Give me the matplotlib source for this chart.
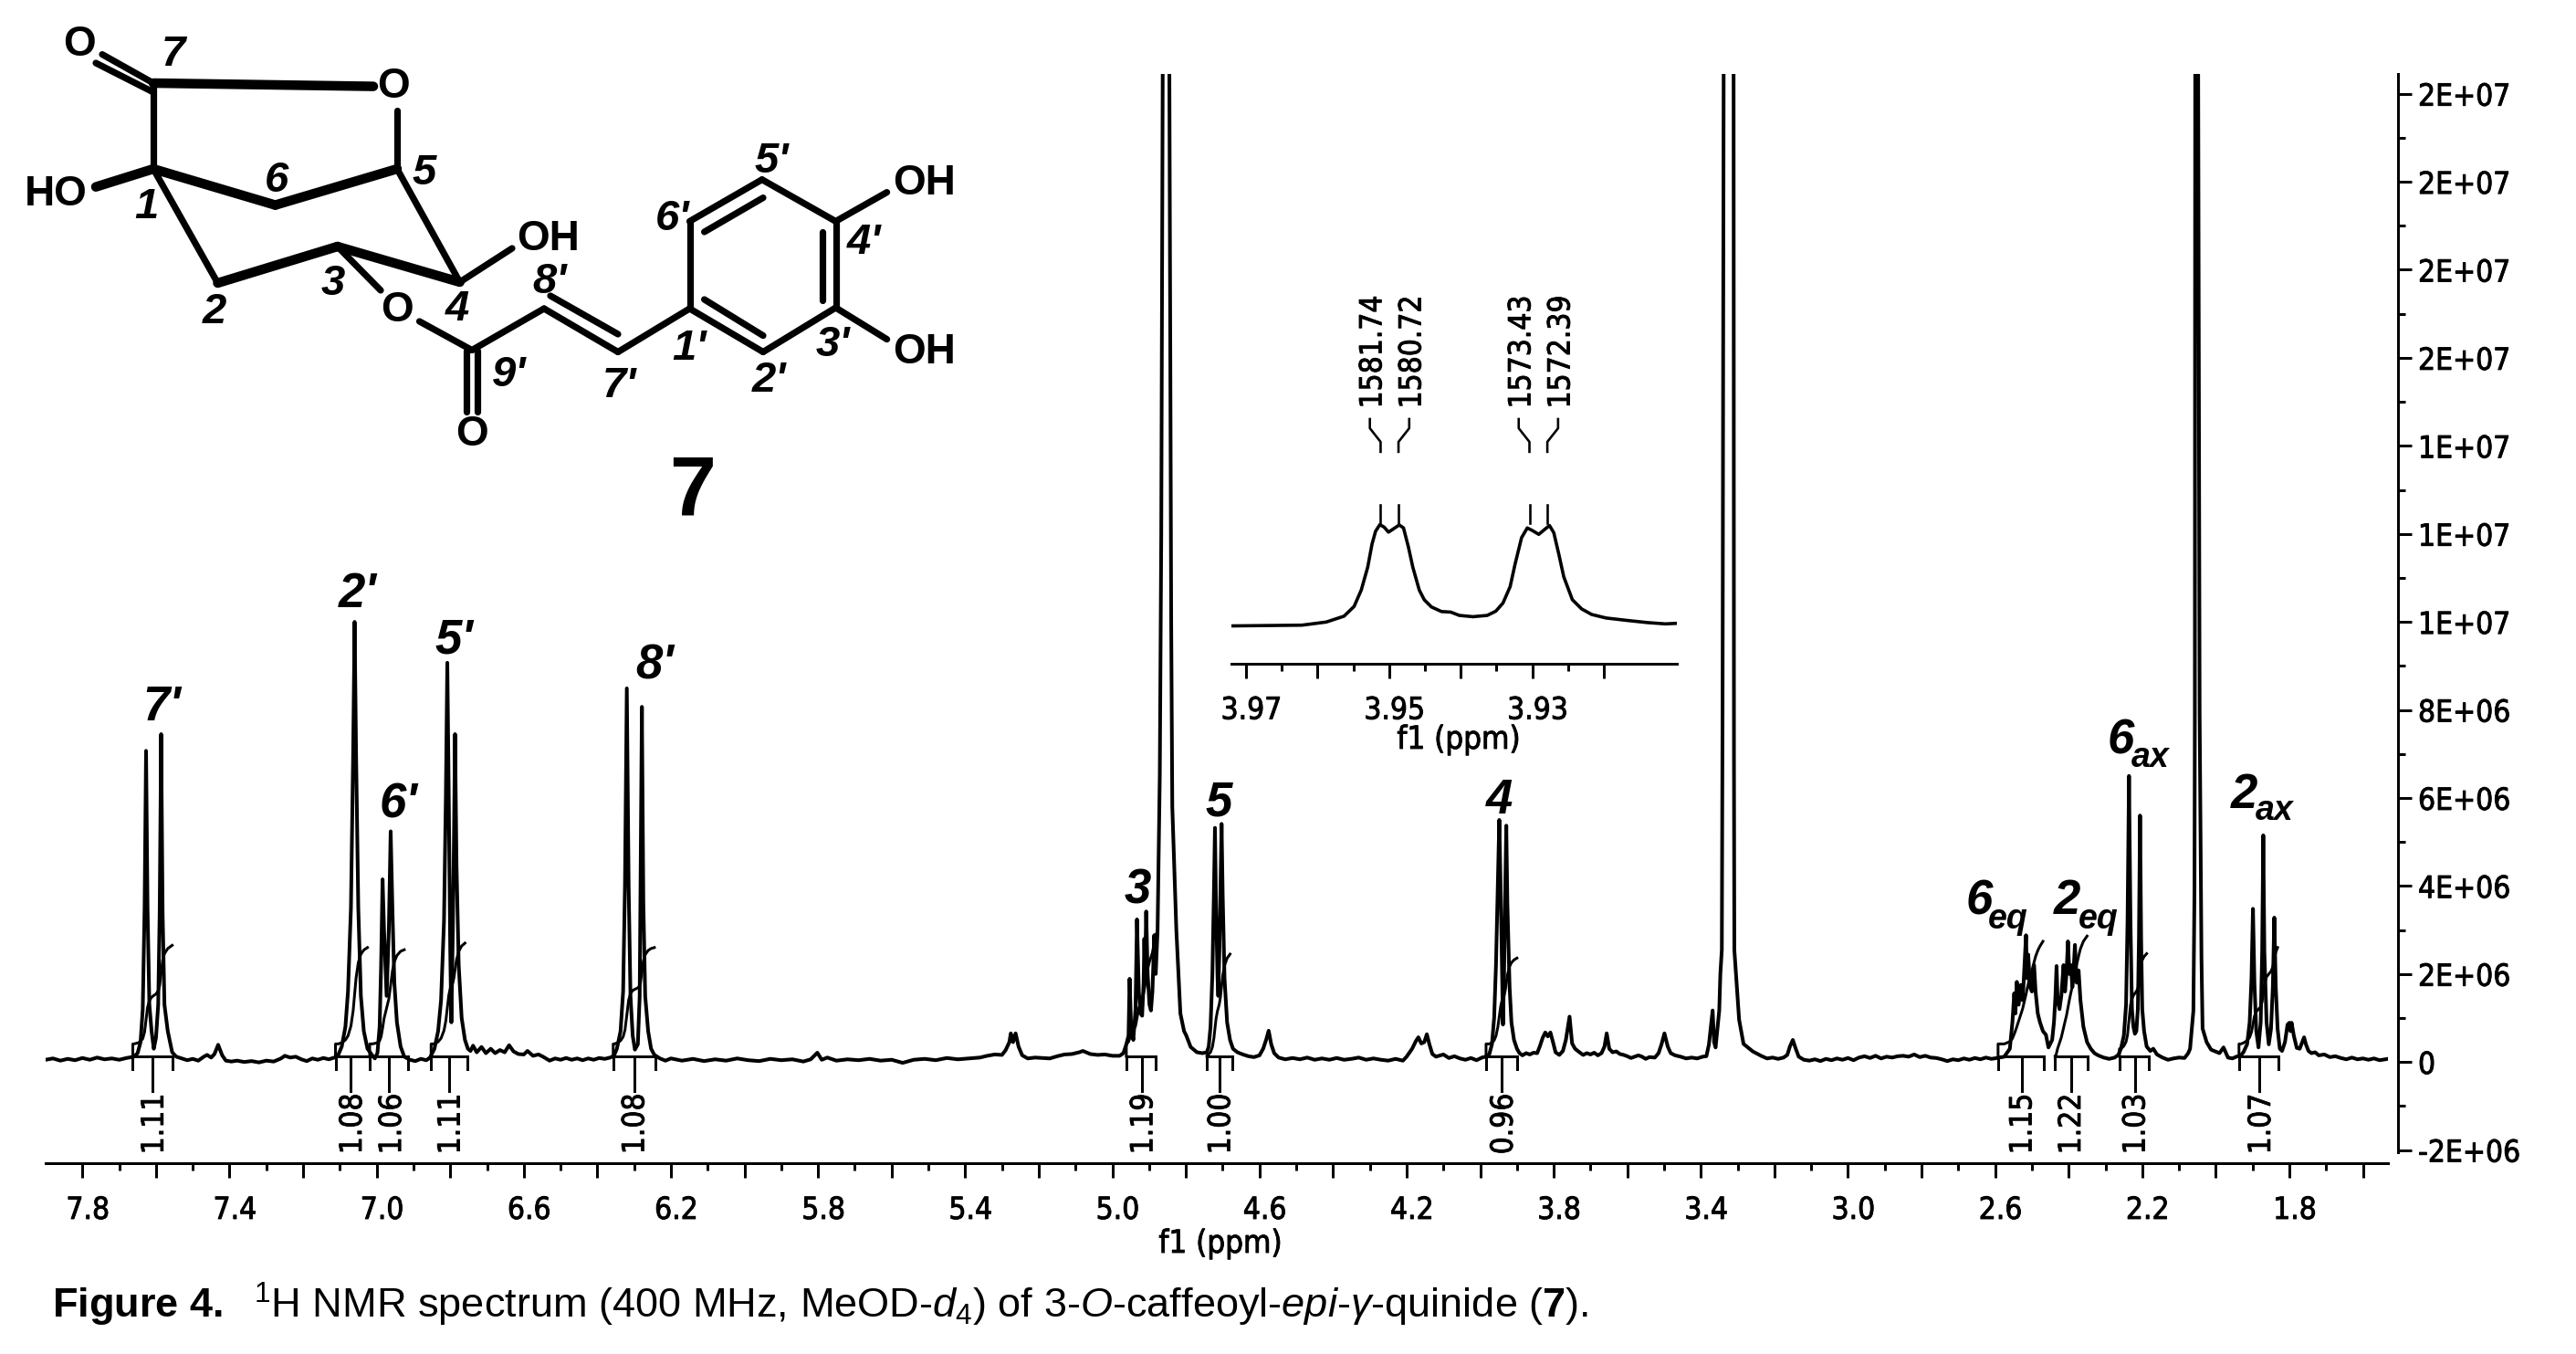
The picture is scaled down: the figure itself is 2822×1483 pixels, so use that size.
import numpy as np
import matplotlib
matplotlib.use("Agg")
import matplotlib.pyplot as plt
from matplotlib.ticker import FixedLocator, FixedFormatter, NullFormatter
from matplotlib.transforms import ScaledTranslation
from matplotlib import font_manager as fm
from matplotlib.patheffects import withStroke

# ---------- values: (ppm, intensity in units of 1E+06) ----------
left_baseline = [(7.90,.05),(7.88,.08),(7.86,.03),(7.84,.07),(7.82,.04),(7.80,.09),(7.78,.05),(7.76,.10),(7.74,.06),(7.72,.08),(7.70,.05),(7.68,.09),(7.66,.12)]
h7p = [(7.65,.2),(7.642,.45),(7.636,1.2),(7.631,3.5),(7.627,7.07),(7.623,3.5),(7.618,1.3),(7.612,.7),(7.606,.3),(7.60,.55),(7.594,1.3),(7.59,3.4),(7.586,7.45),(7.582,3.4),(7.577,1.3),(7.568,.7),(7.556,.22),(7.545,.12)]
gap_a = [(7.53,.08),(7.515,.04),(7.50,.07),(7.485,.03),(7.47,.12),(7.461,.16),(7.45,.1),(7.441,.18),(7.431,.39),(7.42,.15),(7.41,.03),(7.395,.01),(7.38,.03),(7.36,0),(7.34,.02),(7.32,-.01),(7.30,.03),(7.28,.01),(7.26,.08),(7.25,.14),(7.235,.1),(7.22,.12),(7.205,.06),(7.19,.02),(7.175,.08),(7.16,.05),(7.145,.09),(7.13,.06),(7.115,.1),(7.105,.15)]
h2p = [(7.095,.35),(7.085,.8),(7.078,1.6),(7.07,3.5),(7.064,7),(7.06,10.0),(7.056,7),(7.05,3.5),(7.043,1.5),(7.035,.7),(7.025,.3),(7.012,.15),(7.005,.08)]
h6p = [(6.998,.2),(6.992,.8),(6.988,2.2),(6.984,4.15),(6.98,3.0),(6.973,1.5),(6.967,3),(6.962,5.24),(6.957,3.4),(6.952,1.8),(6.945,.9),(6.935,.35),(6.925,.12),(6.91,.05),(6.895,.02),(6.88,.07),(6.865,.04)]
h5p = [(6.855,.1),(6.843,.3),(6.833,.7),(6.825,1.4),(6.817,3.2),(6.812,6),(6.808,9.07),(6.804,6),(6.8,2.5),(6.797,.9),(6.793,3),(6.79,5),(6.787,7.45),(6.783,4.5),(6.777,2.2),(6.769,1.0),(6.76,.5),(6.752,.3)]
gap_b = [(6.745,.25),(6.738,.37),(6.728,.22),(6.715,.34),(6.703,.2),(6.69,.3),(6.678,.2),(6.665,.27),(6.652,.22),(6.64,.38),(6.628,.24),(6.615,.18),(6.6,.17),(6.59,.25),(6.575,.14),(6.56,.17),(6.548,.12),(6.53,.03),(6.515,.08),(6.5,.05),(6.485,.09),(6.47,.05),(6.455,.08),(6.44,.04),(6.425,.08),(6.41,.05),(6.395,.09),(6.38,.07),(6.365,.1),(6.355,.14)]
h8p = [(6.347,.3),(6.337,.7),(6.33,1.6),(6.325,4),(6.32,8.49),(6.315,4),(6.31,1.5),(6.304,.6),(6.298,.28),(6.29,.4),(6.285,1.5),(6.283,3.6),(6.279,8.07),(6.275,3.6),(6.27,1.5),(6.262,.7),(6.254,.3),(6.245,.16)]
gap_c = [(6.23,.08),(6.215,.03),(6.2,.08),(6.17,.03),(6.14,.07),(6.11,.02),(6.08,.06),(6.05,.03),(6.02,.08),(5.99,.04),(5.96,.02),(5.93,.07),(5.90,.04),(5.87,.06),(5.84,.01),(5.82,.06),(5.802,.21),(5.79,.05),(5.775,.1),(5.75,.03),(5.72,.06),(5.69,.04),(5.66,.07),(5.63,.03),(5.60,.05),(5.57,-.02),(5.54,.05),(5.51,.07),(5.48,.04),(5.45,.09),(5.42,.06),(5.39,.08),(5.36,.1),(5.34,.14),(5.32,.17),(5.30,.16),(5.29,.27),(5.28,.45),(5.276,.65),(5.27,.45),(5.263,.65),(5.255,.35),(5.245,.15),(5.23,.08),(5.21,.1),(5.19,.09),(5.17,.08),(5.15,.13),(5.13,.17),(5.11,.18),(5.09,.22),(5.08,.25),(5.06,.18),(5.04,.16),(5.02,.17),(5.0,.14),(4.98,.14),(4.97,.2)]
h3 = [(4.962,.4),(4.956,.6),(4.953,1.89),(4.949,.8),(4.943,.5),(4.937,1.2),(4.933,3.24),(4.928,1.6),(4.923,1.1),(4.919,1.05),(4.915,1.8),(4.913,2.8),(4.911,2),(4.908,3.42),(4.904,2),(4.899,1.3),(4.895,1.17),(4.891,1.6),(4.886,2.88),(4.882,2.0)]
water = [(4.877,3),(4.871,6.5),(4.867,12),(4.863,22.6),(4.854,30),(4.845,22.6),(4.840,10),(4.837,5.8),(4.826,3.0),(4.815,1.1),(4.805,.7),(4.799,.6),(4.787,.34),(4.77,.22),(4.755,.2),(4.743,.22)]
h5 = [(4.738,.35),(4.733,.8),(4.728,2),(4.724,3.8),(4.721,5.32),(4.718,3.5),(4.714,1.9),(4.712,1.5),(4.709,2.5),(4.706,4),(4.703,5.41),(4.70,3.8),(4.695,1.9),(4.688,.9),(4.68,.5),(4.672,.3)]
gap_d = [(4.66,.22),(4.645,.17),(4.63,.13),(4.615,.11),(4.6,.15),(4.59,.3),(4.582,.5),(4.575,.71),(4.568,.4),(4.56,.2),(4.548,.1),(4.53,.06),(4.51,.09),(4.49,.06),(4.47,.1),(4.45,.05),(4.43,.08),(4.41,.05),(4.39,.09),(4.37,.05),(4.35,.07),(4.33,.1),(4.31,.05),(4.29,.08),(4.27,.05),(4.25,.03),(4.23,.07),(4.21,.03),(4.2,.12),(4.185,.3),(4.175,.47),(4.168,.56),(4.16,.42),(4.152,.45),(4.145,.63),(4.138,.4),(4.13,.18),(4.12,.12),(4.1,.17),(4.085,.09),(4.07,.13),(4.055,.08),(4.04,.05),(4.025,.09),(4.01,.04),(3.995,.1),(3.985,.12)]
h4 = [(3.975,.18),(3.968,.4),(3.962,1),(3.957,2.2),(3.952,4),(3.948,5.5),(3.944,3.8),(3.94,1.8),(3.938,.85),(3.935,2),(3.932,3.8),(3.929,5.37),(3.926,3.6),(3.92,1.7),(3.915,.9),(3.908,.5),(3.9,.3)]
gap_e = [(3.893,.2),(3.885,.15),(3.875,.2),(3.865,.17),(3.855,.21),(3.845,.2),(3.838,.35),(3.83,.55),(3.823,.67),(3.816,.58),(3.809,.67),(3.802,.45),(3.795,.22),(3.785,.16),(3.775,.25),(3.767,.5),(3.757,1.03),(3.75,.42),(3.742,.3),(3.73,.22),(3.72,.16),(3.71,.2),(3.7,.17),(3.69,.21),(3.68,.15),(3.67,.2),(3.662,.35),(3.656,.65),(3.649,.3),(3.64,.22),(3.63,.24),(3.62,.18),(3.61,.16),(3.6,.13),(3.59,.09),(3.58,.12),(3.57,.15),(3.56,.12),(3.55,.07),(3.54,.11),(3.525,.1),(3.515,.2),(3.507,.4),(3.499,.65),(3.49,.35),(3.482,.2),(3.47,.15),(3.455,.12),(3.44,.08),(3.425,.1),(3.41,.08),(3.395,.12),(3.385,.13),(3.378,.4),(3.368,1.17),(3.364,.45)]
methanol = [(3.36,.33),(3.35,1.17),(3.347,2.0),(3.343,2.55),(3.341,8),(3.338,22.6),(3.325,32),(3.311,22.6),(3.31,7),(3.309,2.55),(3.296,.96),(3.284,.41),(3.259,.24),(3.234,.13)]
gap_f = [(3.22,.08),(3.205,.1),(3.19,.07),(3.175,.1),(3.165,.16),(3.158,.35),(3.15,.5),(3.142,.3),(3.134,.12),(3.12,.05),(3.105,.03),(3.09,.06),(3.075,.02),(3.06,.07),(3.045,.04),(3.03,.08),(3.015,.05),(3.0,.09),(2.985,.04),(2.97,.1),(2.955,.13),(2.94,.09),(2.925,.14),(2.91,.08),(2.895,.12),(2.88,.1),(2.865,.13),(2.85,.14),(2.835,.12),(2.82,.17),(2.805,.11),(2.79,.14),(2.775,.1),(2.76,.09),(2.745,.06),(2.73,.02),(2.715,.06),(2.7,.04),(2.685,.08),(2.67,.05),(2.655,.09),(2.64,.06),(2.625,.1),(2.61,.07),(2.595,.09),(2.575,.12)]
h6eq = [(2.56,.3),(2.553,.9),(2.548,1.56),(2.545,1.1),(2.541,1.82),(2.536,1.3),(2.53,1.75),(2.525,1.4),(2.516,2.88),(2.513,1.9),(2.51,2.44),(2.505,1.7),(2.5,1.6),(2.494,2.2),(2.49,1.6),(2.484,1.1),(2.478,.9),(2.47,.7),(2.462,.62),(2.455,.33)]
h2eq = [(2.445,.5),(2.44,.9),(2.436,1.5),(2.433,2.18),(2.43,1.4),(2.425,1.2),(2.42,1.5),(2.414,2.2),(2.41,1.6),(2.406,2.0),(2.402,2.74),(2.398,2.0),(2.394,2.2),(2.39,1.7),(2.386,2.2),(2.383,2.66),(2.378,1.8),(2.373,2.08),(2.368,1.4),(2.36,.8),(2.35,.45),(2.34,.3)]
gap_g = [(2.33,.2),(2.32,.15),(2.305,.1),(2.29,.07),(2.275,.1),(2.265,.16)]
h6ax = [(2.258,.3),(2.25,.6),(2.244,1.3),(2.24,3.2),(2.236,6.5),(2.232,3.2),(2.228,1.2),(2.224,.8),(2.22,.64),(2.216,.7),(2.212,1.2),(2.209,2.8),(2.206,5.6),(2.203,2.8),(2.2,1.2),(2.195,.7),(2.188,.35),(2.178,.25)]
gap_h = [(2.17,.3),(2.16,.17),(2.145,.1),(2.13,.05),(2.115,.08),(2.1,.1),(2.085,.09),(2.075,.2)]
acetone = [(2.07,.3),(2.061,1.16),(2.058,3.9),(2.057,7.9),(2.056,22.6),(2.052,30),(2.048,22.6),(2.044,7.9),(2.039,2.36),(2.036,.76),(2.025,.45),(2.013,.28),(1.99,.2),(1.979,.33),(1.967,.1),(1.955,.08),(1.944,.12),(1.932,.15)]
h2ax = [(1.925,.22),(1.915,.4),(1.908,.9),(1.903,1.9),(1.899,3.48),(1.895,1.8),(1.89,.7),(1.884,.33),(1.878,.9),(1.874,2.5),(1.871,5.15),(1.868,2.5),(1.862,.9),(1.856,.4),(1.85,.75),(1.845,1.7),(1.841,3.28),(1.837,1.7),(1.832,.75),(1.826,.3)]
right_tail = [(1.82,.25),(1.812,.45),(1.805,.85),(1.8,.89),(1.797,.7),(1.794,.89),(1.788,.6),(1.78,.32),(1.772,.3),(1.765,.45),(1.76,.56),(1.755,.4),(1.748,.25),(1.74,.2),(1.73,.22),(1.72,.15),(1.705,.17),(1.69,.11),(1.675,.13),(1.66,.09),(1.645,.06),(1.63,.1),(1.615,.06),(1.6,.08),(1.585,.05),(1.57,.08),(1.555,.04),(1.54,.06),(1.532,.07)]

# integrals
integral_values = ["1.11","1.08","1.06","1.11","1.08","1.19","1.00","0.96","1.15","1.22","1.03","1.07"]
integral_left   = [7.663,7.112,7.019,6.852,6.357,4.962,4.743,3.984,2.592,2.437,2.262,1.937]
integral_right  = [7.556,7.019,6.915,6.753,6.243,4.882,4.675,3.899,2.467,2.349,2.183,1.830]
integral_stem   = [7.609,7.072,6.966,6.804,6.300,4.920,4.709,3.942,2.527,2.392,2.220,1.882]
integral_label  = [7.604,7.065,6.958,6.798,6.297,4.915,4.704,3.936,2.525,2.392,2.217,1.876]
integral_start  = [.41,.41,.41,.41,.41,.4,.15,.41,.41,.1,.3,.41]
integral_end    = [2.65,2.6,2.55,2.7,2.6,2.9,2.45,2.36,2.74,2.86,2.46,2.6]

# inset: (ppm, intensity)
inset_points = [(3.9721,0),(3.9622,.04),(3.9588,.21),(3.9563,.53),(3.9549,1.06),(3.9539,1.95),(3.9530,3.19),(3.9524,4.44),(3.9519,5.14),(3.9513,5.5),(3.9507,5.36),(3.9501,5.09),(3.9494,5.27),(3.9486,5.48),(3.9480,5.32),(3.9473,4.26),(3.9467,3.19),(3.9458,1.95),(3.9451,1.42),(3.9441,1.03),(3.9427,.78),(3.9414,.75),(3.9402,.57),(3.9383,.50),(3.9363,.57),(3.9351,.80),(3.9341,1.24),(3.9331,2.13),(3.9324,3.37),(3.9315,4.79),(3.9307,5.32),(3.9300,5.18),(3.9291,4.97),(3.9283,5.23),(3.9276,5.45),(3.9270,5.06),(3.9263,3.90),(3.9256,2.66),(3.9244,1.42),(3.9231,.92),(3.9217,.62),(3.9197,.43),(3.9168,.30),(3.9139,.18),(3.9114,.11),(3.9098,.14)]
pick_ppm   = [3.9512,3.9487,3.9304,3.9279]
pick_bend  = [3.9527,3.9472,3.9319,3.9264]
pick_label = [3.9523,3.9468,3.9315,3.9260]
pick_text  = ["1581.74","1580.72","1573.43","1572.39"]

# ticks
x_major = [7.8,7.6,7.4,7.2,7.0,6.8,6.6,6.4,6.2,6.0,5.8,5.6,5.4,5.2,5.0,4.8,4.6,4.4,4.2,4.0,3.8,3.6,3.4,3.2,3.0,2.8,2.6,2.4,2.2,2.0,1.8,1.6]
x_minor = [7.7,7.5,7.3,7.1,6.9,6.7,6.5,6.3,6.1,5.9,5.7,5.5,5.3,5.1,4.9,4.7,4.5,4.3,4.1,3.9,3.7,3.5,3.3,3.1,2.9,2.7,2.5,2.3,2.1,1.9,1.7]
x_labels = ["7.8","","7.4","","7.0","","6.6","","6.2","","5.8","","5.4","","5.0","","4.6","","4.2","","3.8","","3.4","","3.0","","2.6","","2.2","","1.8",""]
y_major = [-2,0,2,4,6,8,10,12,14,16,18,20,22]
y_minor = [-1,1,3,5,7,9,11,13,15,17,19,21]
y_labels = ["-2E+06","0","2E+06","4E+06","6E+06","8E+06","1E+07","1E+07","1E+07","2E+07","2E+07","2E+07","2E+07"]
inset_major = [3.97,3.96,3.95,3.94,3.93,3.92]
inset_minor = [3.965,3.955,3.945,3.935,3.925]
inset_labels = ["3.97","","3.95","","3.93",""]

# ---------- fonts ----------
W, H, DPI = 2822, 1483, 100
px = 72 / DPI
ARIAL = ["Liberation Sans"]
available = {(f.name, f.stretch) for f in fm.fontManager.ttflist}
if any(n == "DejaVu Sans Condensed" for n, s in available):
    COND = {"family": "DejaVu Sans Condensed"}
elif any(n == "DejaVu Sans" and s == "condensed" for n, s in available):
    COND = {"family": "DejaVu Sans", "stretch": "condensed"}
else:
    COND = {"family": "DejaVu Sans"}
TICK_FS = 24

plt.rcParams["mathtext.fontset"] = "custom"
plt.rcParams["mathtext.rm"] = "Liberation Sans"
plt.rcParams["mathtext.it"] = "Liberation Sans:italic"
plt.rcParams["mathtext.bf"] = "Liberation Sans:bold"

HEAVY = [withStroke(linewidth=0.9 * px, foreground="black")]

fig = plt.figure(figsize=(W / DPI, H / DPI), dpi=DPI, facecolor="white")

def axes_from_px(x0, x1, y_top, y_bottom, **kw):
    return fig.add_axes([x0 / W, 1 - y_bottom / H, (x1 - x0) / W, (y_bottom - y_top) / H], **kw)

LW_AX = 3.0 * px

def style_x(ax, major, minor, labels, xoff=6):
    ax.xaxis.set_major_locator(FixedLocator(major))
    ax.xaxis.set_minor_locator(FixedLocator(minor))
    ax.xaxis.set_major_formatter(FixedFormatter(labels))
    ax.xaxis.set_minor_formatter(NullFormatter())
    ax.tick_params(axis="x", which="major", length=16 * px, width=LW_AX, pad=19 * px, labelsize=TICK_FS, direction="out")
    ax.tick_params(axis="x", which="minor", length=8 * px, width=LW_AX, direction="out")
    off = ScaledTranslation(xoff / DPI, 0, fig.dpi_scale_trans)
    for lab in ax.get_xticklabels():
        lab.set_fontproperties(fm.FontProperties(size=TICK_FS, **COND))
        lab.set_transform(lab.get_transform() + off)
        lab.set_path_effects(HEAVY)
    ax.spines["bottom"].set_linewidth(LW_AX)

# ---------- main spectrum ----------
ax = axes_from_px(50, 2616, 81, 1274)
ax.set_xlim(7.90, 1.532)
ax.set_ylim(-2.30, 22.45)
ax.patch.set_alpha(0)
spectrum = left_baseline + h7p + gap_a + h2p + h6p + h5p + gap_b + h8p + gap_c + h3 + water + h5 + gap_d + h4 + gap_e + methanol + gap_f + h6eq + h2eq + gap_g + h6ax + gap_h + acetone + h2ax + right_tail
ppm = np.array([p for p, _ in spectrum])
intensity = np.array([v for _, v in spectrum])
ax.plot(ppm, intensity, color="black", lw=4.0 * px, solid_joinstyle="round", zorder=3)

BAR = 0.13
for i, val in enumerate(integral_values):
    a, b, s, lb = integral_left[i], integral_right[i], integral_stem[i], integral_label[i]
    ax.plot([a, b], [BAR, BAR], color="black", lw=LW_AX)
    for e in (a, b):
        ax.plot([e, e], [-0.17, BAR], color="black", lw=LW_AX)
    ax.plot([s, s], [BAR, -0.66], color="black", lw=3.0 * px)
    ax.text(lb, -0.71, val, rotation=90, ha="center", va="top", fontsize=TICK_FS, path_effects=HEAVY, **COND)
    mask = (ppm <= a) & (ppm >= b)
    xs, ys = ppm[mask], np.clip(intensity[mask], 0, 12)
    cum = np.concatenate([[0], np.cumsum(0.5 * (ys[1:] + ys[:-1]) * np.abs(np.diff(xs)))])
    cum = cum / cum[-1]
    lo, hi = integral_start[i], integral_end[i]
    ax.plot(np.r_[a, a, xs], np.r_[BAR, lo, lo + (hi - lo) * cum], color="black", lw=3.0 * px, zorder=4)

ax.spines["left"].set_visible(False)
ax.spines["top"].set_visible(False)
ax.spines["right"].set_position(("outward", 11 * px))
ax.spines["right"].set_bounds(-2.05, 22.45)
ax.spines["right"].set_linewidth(LW_AX)
ax.yaxis.tick_right()
ax.yaxis.set_major_locator(FixedLocator(y_major))
ax.yaxis.set_minor_locator(FixedLocator(y_minor))
ax.yaxis.set_major_formatter(FixedFormatter(y_labels))
ax.yaxis.set_minor_formatter(NullFormatter())
ax.tick_params(axis="y", which="major", length=15 * px, width=LW_AX, pad=7 * px, labelsize=TICK_FS)
ax.tick_params(axis="y", which="minor", length=8 * px, width=LW_AX)
for lab in ax.get_yticklabels():
    lab.set_fontproperties(fm.FontProperties(size=TICK_FS, **COND))
    lab.set_path_effects(HEAVY)
style_x(ax, x_major, x_minor, x_labels)

# ---------- inset ----------
iax = axes_from_px(1348.6, 1837, 280, 726.5)
iax.set_xlim(3.9721, 3.9098)
iax.set_ylim(-2.03, 20.1)
iax.patch.set_alpha(0)
for s in ("left", "right", "top"):
    iax.spines[s].set_visible(False)
iax.yaxis.set_visible(False)
iax.plot([p for p, _ in inset_points], [v for _, v in inset_points], color="black", lw=3.6 * px)
for p, b, q, t in zip(pick_ppm, pick_bend, pick_label, pick_text):
    iax.plot([p, p], [5.6, 6.56], color="black", lw=2.6 * px)
    iax.plot([p, p, b, b], [9.45, 9.99, 10.73, 11.23], color="black", lw=2.6 * px)
    iax.text(q, 11.8, t, rotation=90, ha="center", va="bottom", fontsize=TICK_FS, path_effects=HEAVY, **COND)
style_x(iax, inset_major, inset_minor, inset_labels)

# ---------- overlay: structure drawing, assignments, captions ----------
ov = fig.add_axes([0, 0, 1, 1], zorder=10)
ov.set_xlim(0, W)
ov.set_ylim(H, 0)
ov.axis("off")

thin_bonds = [
    ((168,91),(168,185)), ((168,185),(238.5,310)), ((435,121),(435,185)), ((435,185),(503.7,309)),
    ((503.7,309),(561,272)), ((369.7,270),(417,318)), ((459.5,352),(517,383.5)), ((517,383.5),(596,338)),
    ((596,338),(677,385.5)), ((603,324),(677,366)), ((677,385.5),(755.5,338)),
    ((755.5,338),(755.5,242.4)), ((755.5,242.4),(834.8,196.7)), ((834.8,196.7),(915.5,242.4)),
    ((915.5,242.4),(915.5,337)), ((915.5,337),(836,385.5)), ((836,385.5),(755.5,338)),
    ((771.6,254),(836,216.6)), ((901.4,254),(901.4,329)), ((771.6,328),(836,367.6)),
    ((915.5,242.4),(971.6,210.6)), ((915.5,337),(971.6,371.6)),
    ((168,91),(112,59.6)), ((168,101),(105,69)),
    ((511,383.5),(511,451)), ((523,383.5),(523,451)),
]
thick_bonds = [
    ((168,91),(409,94.6)), ((168,185),(105,204.7)), ((168,185),(301.6,224.6)), ((301.6,224.6),(435,185)),
    ((238.5,310),(369.7,270)), ((369.7,270),(503.7,309)),
]
for (a, b) in thin_bonds:
    ov.plot([a[0], b[0]], [a[1], b[1]], color="black", lw=7.2 * px, solid_capstyle="round")
for (a, b) in thick_bonds:
    ov.plot([a[0], b[0]], [a[1], b[1]], color="black", lw=10.5 * px, solid_capstyle="round")

atom_labels = [("O",87,49),("O",431,95.4),("HO",61,212.6),("OH",601,262),("O",435,340),("O",517,475.8),("OH",1012,201),("OH",1012,386)]
for t, x, y in atom_labels:
    ov.text(x, y, t, family=ARIAL, weight="bold", fontsize=33, ha="center", va="center")
number_labels = [("7",189.4,60),("1",160,227),("2",235,342),("3",365,311),("4",501,339),("5",465,190),("6",303,198),
                 ("5'",845,177),("6'",736.6,240.5),("4'",947,266),("3'",912,377.6),("2'",842,417),("1'",755,381.6),("7'",678.4,423),("8'",602,309),("9'",557.7,411.4)]
for t, x, y in number_labels:
    ov.text(x, y, t, family=ARIAL, weight="bold", style="italic", fontsize=34, ha="center", va="center")
ov.text(759, 539, "7", family=ARIAL, weight="bold", fontsize=66, ha="center", va="center")

peak_labels = [("7'",176.8,775),("2'",392,651),("6'",436,882),("5'",497,701),("8'",717.6,730),("3",1246,976),("5",1335,879),("4",1643,877),
               ("6",2168,987),("2",2265,987),("6",2323,812),("2",2459,871)]
for t, x, y in peak_labels:
    ov.text(x, y, t, family=ARIAL, weight="bold", style="italic", fontsize=38, ha="center", va="center")
sub_labels = [("eq",2200,1007),("eq",2299,1007),("ax",2356,830),("ax",2492,888)]
for t, x, y in sub_labels:
    ov.text(x, y, t, family=ARIAL, weight="bold", style="italic", fontsize=27, ha="center", va="center")

ov.text(1337, 1362, "f1 (ppm)", ha="center", va="center", fontsize=25, path_effects=HEAVY, **COND)
ov.text(1598, 810, "f1 (ppm)", ha="center", va="center", fontsize=25, path_effects=HEAVY, **COND)

caption = (r"$\mathbf{Figure\ 4.}$  $^{1}$H NMR spectrum (400 MHz, MeOD-$\mathit{d}_{4}$) of "
           r"3-$\mathit{O}$-caffeoyl-$\mathit{epi}$-$\gamma$-quinide ($\mathbf{7}$).")
ov.text(57, 1444, caption, family="Liberation Sans", fontsize=32.5, ha="left", va="baseline")

fig.savefig("out.png", dpi=DPI, facecolor="white")
